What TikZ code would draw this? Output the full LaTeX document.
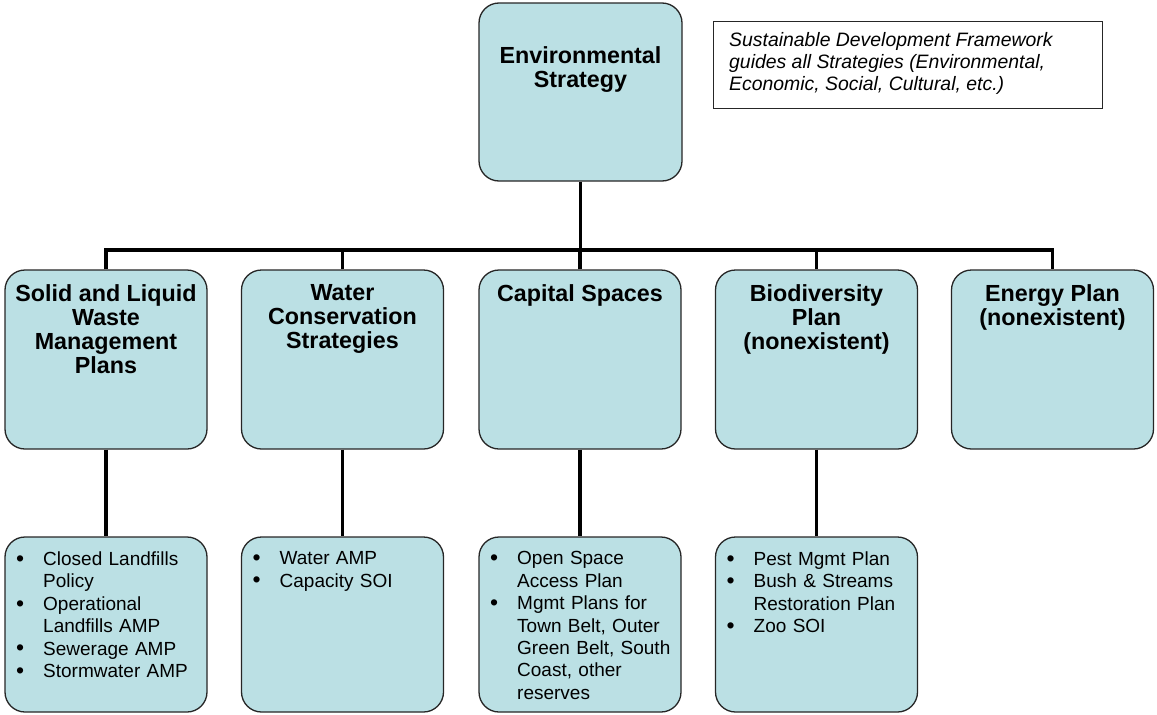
\documentclass[tikz,border=0pt]{standalone}
\usepackage{fontspec}
\setmainfont{Liberation Sans}
\definecolor{boxfill}{RGB}{187,224,228}
\newcommand\nl{\hfil\break}
\newcommand\bitem[1]{\ifvmode\noindent\fi\hangindent=27pt\hangafter=1\makebox[27pt][l]{\raisebox{-0.8pt}{\fontsize{23}{23}\selectfont\textbullet}}#1\par}
\begin{document}
\begin{tikzpicture}[x=1pt,y=1pt,
  box/.style={draw=black!85, line width=1.3pt, fill=boxfill, rounded corners=20pt, inner sep=0pt},
  conn/.style={line width=3.8pt, black},
  ttl/.style={font=\fontsize{23.3}{24}\selectfont\bfseries, align=center, anchor=north, inner sep=0pt},
  lst/.style={font=\fontsize{19}{22.4}\selectfont, text width=200pt, align=left, anchor=north west, inner sep=0pt},
  midbox/.style={box, minimum width=202pt, minimum height=179pt},
  lowbox/.style={box, minimum width=202pt, minimum height=175pt}]
\useasboundingbox (0,0) rectangle (1157,-715);
% top
\node[box, minimum width=203pt, minimum height=178pt] (top) at (580.5,-92) {};
\node[ttl] (toptxt) at (580.5,-46.5) {Environmental\\Strategy};
% note
\node[draw=black!85, line width=1pt, minimum width=389pt, minimum height=87pt, inner sep=0pt] (note) at (907.5,-64.5) {};
\node[font=\fontsize{19.4}{22}\selectfont\itshape, align=left, anchor=north west, inner sep=0pt] (notetxt) at (729,-32)
  {Sustainable Development Framework\\guides all Strategies (Environmental,\\Economic, Social, Cultural, etc.)};
% middle row
\node[midbox] (b1) at (106,-359.5) {};
\node[midbox] (b2) at (342.5,-359.5) {};
\node[midbox] (b3) at (580,-359.5) {};
\node[midbox] (b4) at (816.5,-359.5) {};
\node[midbox] (b5) at (1052.5,-359.5) {};
\node[ttl] (t1) at (106,-284.5) {Solid and Liquid\\Waste\\Management\\Plans};
\node[ttl] (t2) at (342.5,-284.5) {Water\\Conservation\\Strategies};
\node[ttl] (t3) at (580,-284.5) {Capital Spaces};
\node[ttl] (t4) at (816.5,-284.5) {Biodiversity\\Plan\\(nonexistent)};
\node[ttl] (t5) at (1052.5,-284.5) {Energy Plan\\(nonexistent)};
% lower row
\node[lowbox] (l1) at (106,-624.5) {};
\node[lowbox] (l2) at (342.5,-624.5) {};
\node[lowbox] (l3) at (580,-624.5) {};
\node[lowbox] (l4) at (816.5,-624.5) {};
\node[lst] (u1) at (16,-551.5) {\bitem{Closed Landfills\nl Policy}\bitem{Operational\nl Landfills AMP}\bitem{Sewerage AMP}\bitem{Stormwater AMP}};
\node[lst] (u2) at (252.5,-551.5) {\bitem{Water AMP}\bitem{Capacity SOI}};
\node[lst] (u3) at (490,-551.5) {\bitem{Open Space\nl Access Plan}\bitem{Mgmt Plans for\nl Town Belt, Outer\nl Green Belt, South\nl Coast, other\nl reserves}};
\node[lst] (u4) at (726.5,-551.5) {\bitem{Pest Mgmt Plan}\bitem{Bush \& Streams\nl Restoration Plan}\bitem{Zoo SOI}};
% connectors
\coordinate (bus) at (0,-250);
\draw[conn] (top.south) -- (top.south |- bus);
\draw[conn] (b1.north) -- (b1.north |- bus) -- (b5.north |- bus) -- (b5.north);
\draw[conn] (b2.north) -- (b2.north |- bus);
\draw[conn] (b3.north) -- (b3.north |- bus);
\draw[conn] (b4.north) -- (b4.north |- bus);
\draw[conn] (b1.south) -- (l1.north);
\draw[conn] (b2.south) -- (l2.north);
\draw[conn] (b3.south) -- (l3.north);
\draw[conn] (b4.south) -- (l4.north);
\end{tikzpicture}
\end{document}
